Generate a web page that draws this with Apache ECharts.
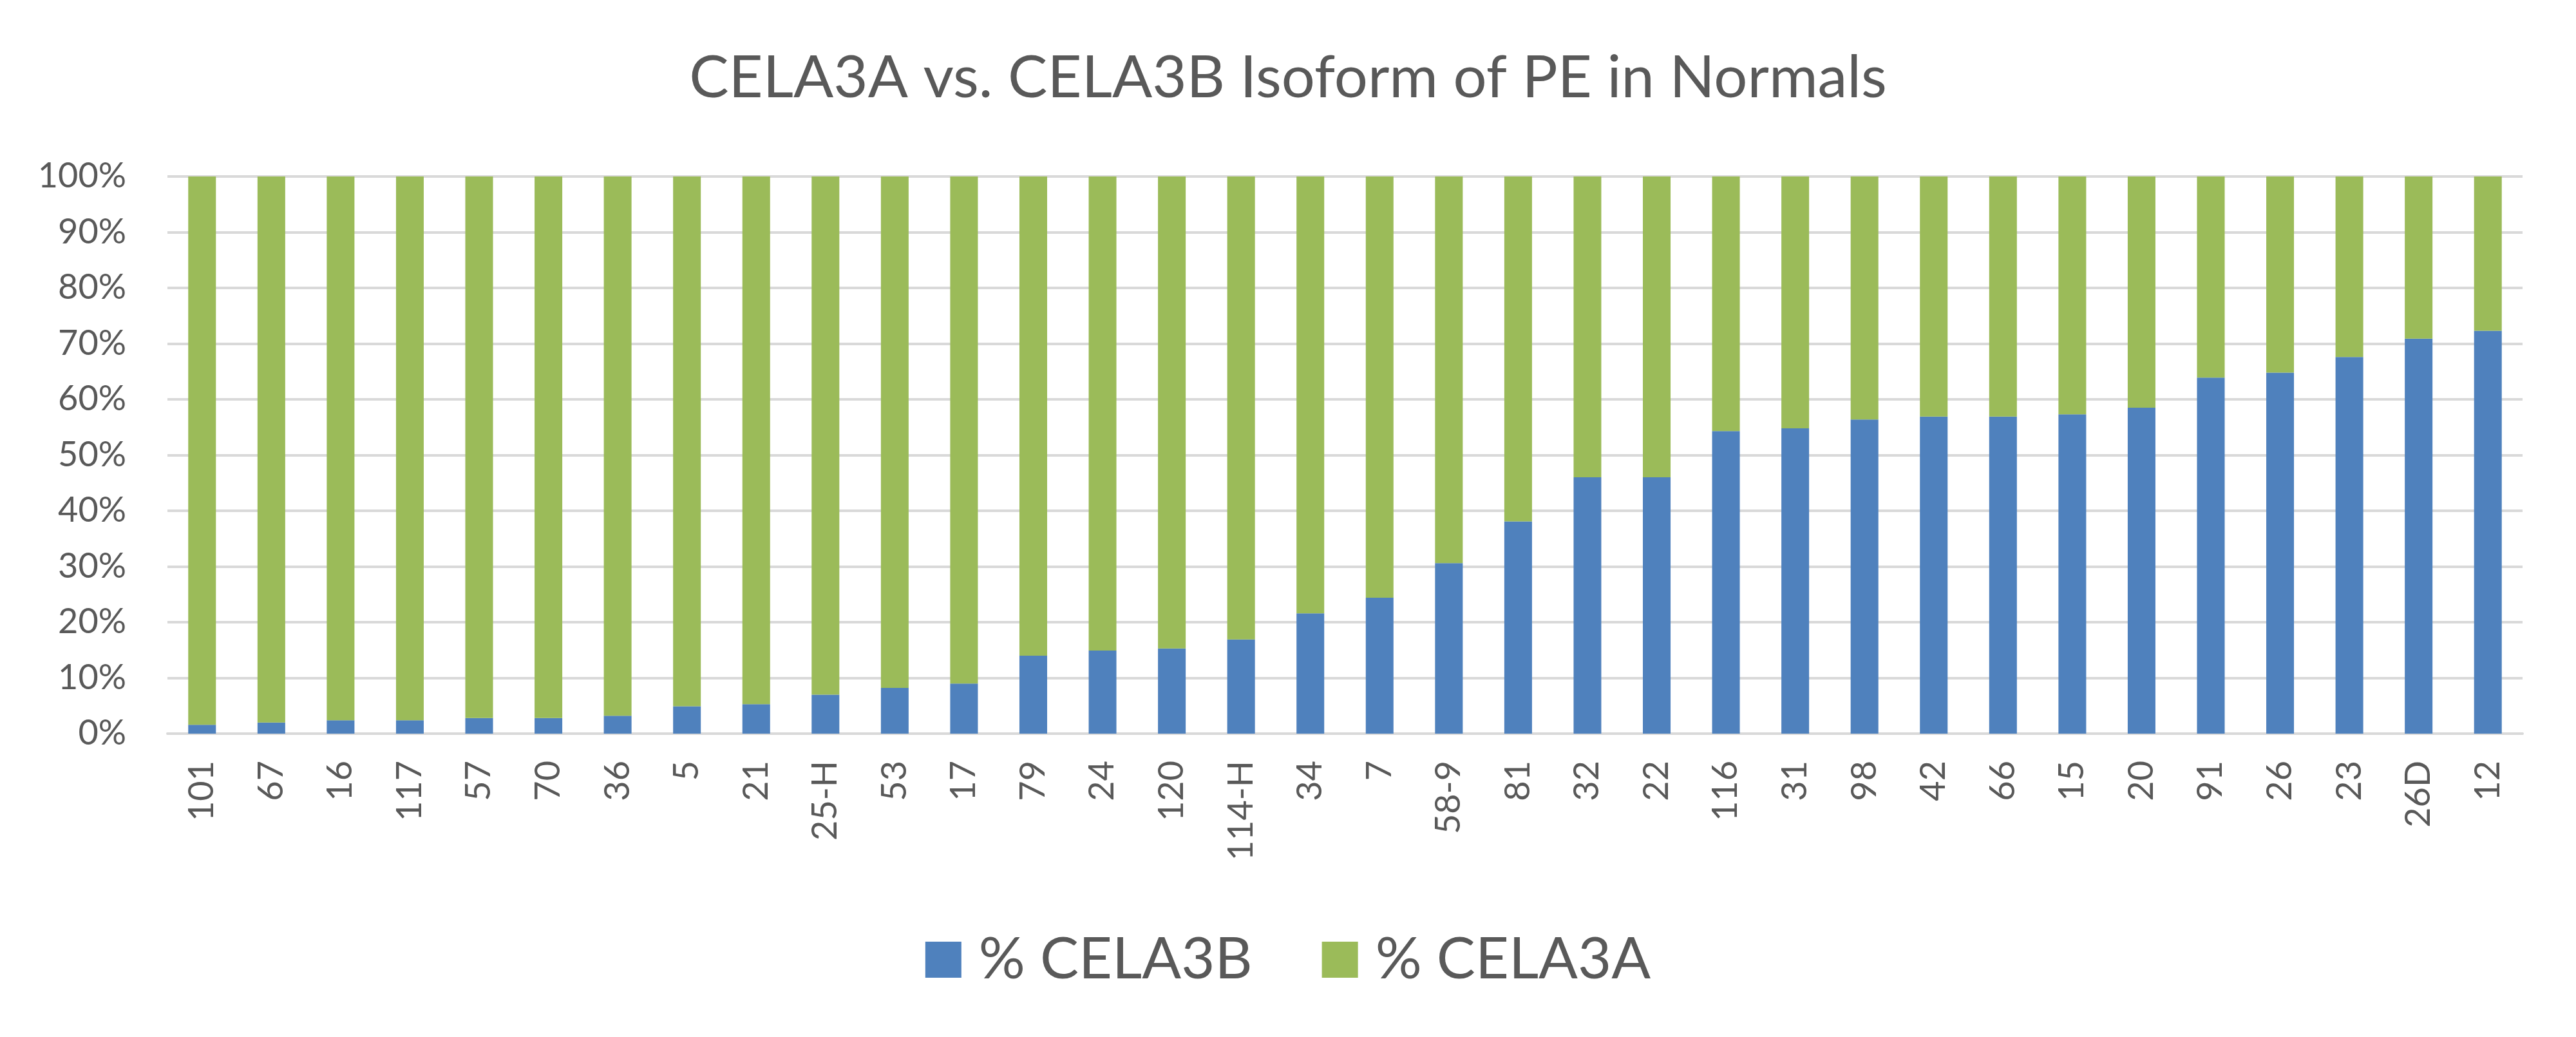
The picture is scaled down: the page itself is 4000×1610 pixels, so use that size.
<!DOCTYPE html>
<html>
<head>
<meta charset="utf-8">
<script src="https://cdn.jsdelivr.net/npm/echarts@6/dist/echarts.min.js"></script>
<style>
  html, body { margin: 0; padding: 0; background: #fff; }
  #chart { width: 4000px; height: 1610px; }
</style>
</head>
<body>
<div id="chart"></div>
<script>
const samples = ['101', '67', '16', '117', '57', '70', '36', '5', '21', '25-H', '53', '17', '79', '24', '120', '114-H', '34', '7', '58-9', '81', '32', '22', '116', '31', '98', '42', '66', '15', '20', '91', '26', '23', '26D', '12'];
const pctCela3b = [1.6, 2.0, 2.4, 2.4, 2.8, 2.8, 3.2, 4.9, 5.3, 7.0, 8.2, 9.0, 14.0, 14.9, 15.3, 16.9, 21.6, 24.4, 30.6, 38.1, 46.0, 46.0, 54.3, 54.8, 56.4, 56.9, 56.9, 57.3, 58.5, 63.9, 64.8, 67.6, 70.9, 72.3];
const pctCela3a = [98.4, 98.0, 97.6, 97.6, 97.2, 97.2, 96.8, 95.1, 94.7, 93.0, 91.8, 91.0, 86.0, 85.1, 84.7, 83.1, 78.4, 75.6, 69.4, 61.9, 54.0, 54.0, 45.7, 45.2, 43.6, 43.1, 43.1, 42.7, 41.5, 36.1, 35.2, 32.4, 29.1, 27.7];

const TEXT_COLOR = '#595959';
const GRID_COLOR = '#D9D9D9';
const FONT = 'Lato';

const chart = echarts.init(document.getElementById('chart'));
chart.setOption({
  animation: false,
  title: {
    text: 'CELA3A vs. CELA3B Isoform of PE in Normals',
    left: 'center',
    top: 70,
    textStyle: { fontFamily: FONT, fontSize: 92, fontWeight: 'normal', color: TEXT_COLOR },
  },
  legend: {
    left: 'center',
    top: 1440,
    icon: 'rect',
    itemWidth: 56,
    itemHeight: 56,
    itemGap: 108,
    textStyle: { fontFamily: FONT, fontSize: 90, color: TEXT_COLOR, padding: [0, 0, 0, 22] },
    data: ['% CELA3B', '% CELA3A'],
  },
  grid: { left: 260, right: 83, top: 274, bottom: 471 },
  xAxis: {
    type: 'category',
    data: samples,
    axisTick: { show: false },
    axisLine: { lineStyle: { color: GRID_COLOR, width: 4 } },
    axisLabel: {
      rotate: 90,
      interval: 0,
      margin: 42,
      fontFamily: FONT,
      fontSize: 54,
      color: TEXT_COLOR,
    },
  },
  yAxis: {
    type: 'value',
    min: 0,
    max: 100,
    interval: 10,
    axisLine: { show: false },
    axisTick: { show: false },
    splitLine: { lineStyle: { color: GRID_COLOR, width: 4 } },
    axisLabel: {
      margin: 64,
      fontFamily: FONT,
      fontSize: 54,
      color: TEXT_COLOR,
      formatter: '{value}%',
    },
  },
  series: [
    {
      name: '% CELA3B',
      type: 'bar',
      stack: 'total',
      barWidth: '40%',
      itemStyle: { color: '#4F81BD' },
      data: pctCela3b,
    },
    {
      name: '% CELA3A',
      type: 'bar',
      stack: 'total',
      barWidth: '40%',
      itemStyle: { color: '#9BBB59' },
      data: pctCela3a,
    },
  ],
});
</script>
</body>
</html>
